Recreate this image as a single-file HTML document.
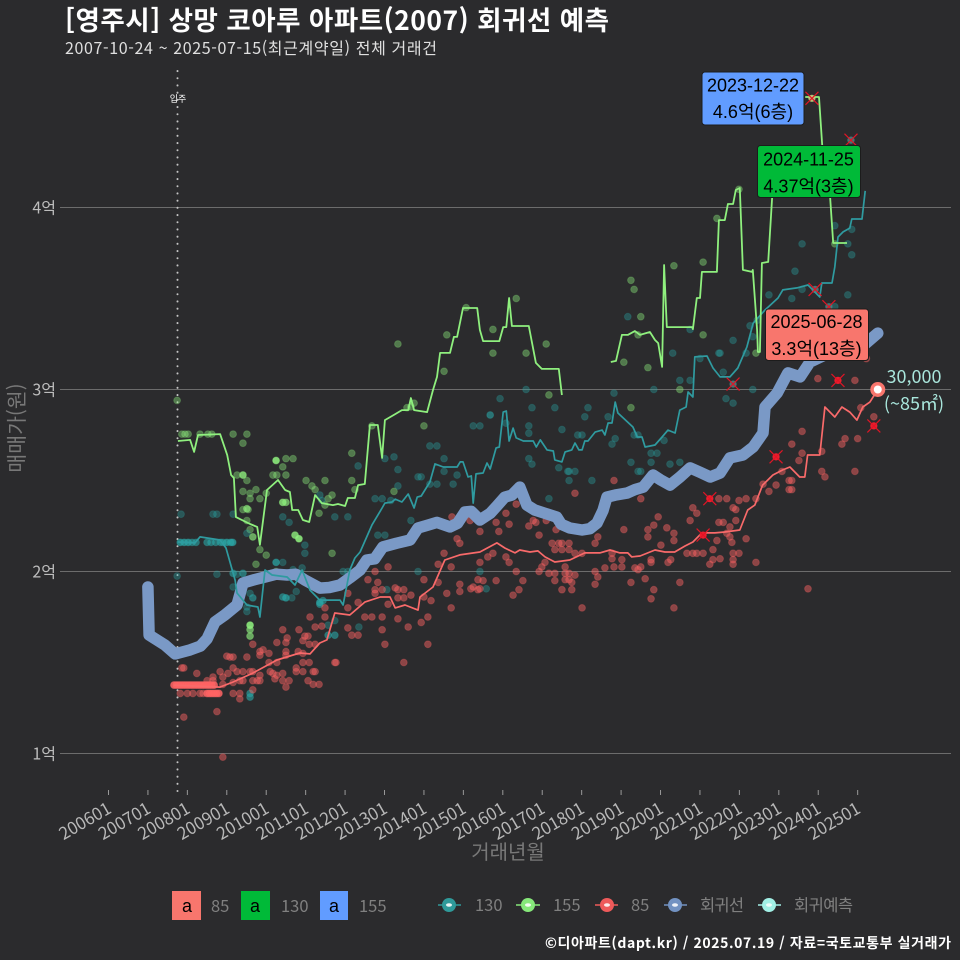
<!DOCTYPE html>
<html lang="ko">
<head>
<meta charset="utf-8">
<title>영주시 상망 코아루 아파트 회귀선 예측</title>
<style>
html,body{margin:0;padding:0;background:#2b2b2d;}
svg{display:block;}
text{font-family:"Noto Sans CJK KR","Liberation Sans",sans-serif;}
.lab{font-family:"Liberation Sans","Noto Sans CJK KR",sans-serif;font-size:18px;fill:#000;text-anchor:middle;}
.lg{font-size:16.5px;fill:#808080;}
</style>
</head>
<body>
<svg id="chart" xmlns="http://www.w3.org/2000/svg" width="960" height="960" viewBox="0 0 960 960">
<rect x="0" y="0" width="960" height="960" fill="#2b2b2d"/>
<text x="65" y="30" font-size="26.5" font-weight="700" fill="#ffffff" textLength="544" lengthAdjust="spacing">[영주시] 상망 코아루 아파트(2007) 회귀선 예측</text>
<text x="65" y="54" font-size="16" fill="#e0e0e0" textLength="372" lengthAdjust="spacing">2007-10-24 ~ 2025-07-15(최근계약일) 전체 거래건</text>
<g id="grid"></g>
<g id="yLabels"></g>
<g id="xAxis"></g>
<text x="0" y="0" transform="translate(24,428) rotate(-90)" text-anchor="middle" font-size="20.5" fill="#787878">매매가(원)</text>
<text x="508" y="859" text-anchor="middle" font-size="20" fill="#787878">거래년월</text>
<line x1="177.5" y1="71" x2="177.5" y2="791" stroke="#c4c4c4" stroke-width="2" stroke-linecap="round" stroke-dasharray="0.1 7.1"/>
<text x="178" y="102" text-anchor="middle" font-size="9" fill="#ffffff">입주</text>
<g id="points"></g>
<g id="lines"></g>
<g id="marks"></g>

<g>
<rect x="702" y="72" width="102" height="53" rx="3" fill="#619CFF" stroke="#1c1c1c"/>
<text class="lab" x="753" y="91.5">2023-12-22</text>
<text class="lab" x="753" y="118">4.6억(6층)</text>
</g>
<g>
<rect x="757.5" y="145.5" width="103" height="52" rx="3" fill="#00BA38" stroke="#1c1c1c"/>
<text class="lab" x="808.5" y="165.5">2024-11-25</text>
<text class="lab" x="808.5" y="192.5">4.37억(3층)</text>
</g>
<g>
<rect x="765.5" y="309" width="103" height="51.5" rx="3" fill="#F8766D" stroke="#1c1c1c"/>
<text class="lab" x="816.5" y="328">2025-06-28</text>
<text class="lab" x="816.5" y="355">3.3억(13층)</text>
</g>

<g id="endpoint"></g>
<text x="914" y="383" text-anchor="middle" font-size="18" fill="#a9e6dc">30,000</text>
<text x="914" y="410" text-anchor="middle" font-size="18" fill="#a9e6dc">(~85㎡)</text>

<g>
<g>
<rect x="172" y="891" width="29" height="29" fill="#F8766D"/>
<text x="187" y="912" text-anchor="middle" font-size="18" fill="#000" style="font-family:'Liberation Sans',sans-serif">a</text>
<text class="lg" x="211" y="912">85</text>
</g>
<g>
<rect x="241" y="891" width="29" height="29" fill="#00BA38"/>
<text x="255" y="912" text-anchor="middle" font-size="18" fill="#000" style="font-family:'Liberation Sans',sans-serif">a</text>
<text class="lg" x="281" y="912">130</text>
</g>
<g>
<rect x="320" y="891" width="28" height="29" fill="#619CFF"/>
<text x="334" y="912" text-anchor="middle" font-size="18" fill="#000" style="font-family:'Liberation Sans',sans-serif">a</text>
<text class="lg" x="359" y="912">155</text>
</g>
</g>
<g>
<g>
<line x1="438" y1="905" x2="461" y2="905" stroke="#2f9a9a" stroke-width="1.5"/>
<circle cx="449" cy="905" r="7" fill="#2f9a9a"/><ellipse cx="449" cy="905" rx="3" ry="1.7" fill="#e8f4f4"/>
<text class="lg" x="475" y="911">130</text>
</g>
<g>
<line x1="516" y1="905" x2="540" y2="905" stroke="#86e87a" stroke-width="1.5"/>
<circle cx="528" cy="905" r="7" fill="#86e87a"/><ellipse cx="528" cy="905" rx="3" ry="1.7" fill="#f2fbf0"/>
<text class="lg" x="553" y="911">155</text>
</g>
<g>
<line x1="595" y1="905" x2="618" y2="905" stroke="#ee5a5a" stroke-width="1.5"/>
<circle cx="607" cy="905" r="7" fill="#ee5a5a"/><ellipse cx="607" cy="905" rx="3" ry="1.7" fill="#fbeaea"/>
<text class="lg" x="631" y="911">85</text>
</g>
<g>
<line x1="664" y1="905" x2="687" y2="905" stroke="#7292c2" stroke-width="1.5"/>
<circle cx="675" cy="905" r="7" fill="#7292c2"/><ellipse cx="675" cy="905" rx="3" ry="1.7" fill="#eef2f8"/>
<text class="lg" x="700" y="911" textLength="44" lengthAdjust="spacing">회귀선</text>
</g>
<g>
<line x1="758" y1="905" x2="781" y2="905" stroke="#a2f0e6" stroke-width="1.5"/>
<circle cx="769" cy="905" r="7" fill="#a2f0e6"/><ellipse cx="769" cy="905" rx="3" ry="1.7" fill="#eefcfa"/>
<text class="lg" x="794" y="911" textLength="59" lengthAdjust="spacing">회귀예측</text>
</g>
</g>
<text x="951" y="948" text-anchor="end" font-size="14" font-weight="700" fill="#ffffff" textLength="406" lengthAdjust="spacing">©디아파트(dapt.kr) / 2025.07.19 / 자료=국토교통부 실거래가</text>
</svg>

<script>
const xTickLabels = ["200601","200701","200801","200901","201001","201101","201201","201301","201401","201501","201601","201701","201801","201901","202001","202101","202201","202301","202401","202501"];
const yTickValues = [1,2,3,4];
const yTickLabels = ["1억","2억","3억","4억"];

const regressionLine = [[2007.0,1.915],[2007.03,1.651],[2007.43,1.596],[2007.69,1.547],[2008.07,1.569],[2008.33,1.59],[2008.5,1.63],[2008.7,1.723],[2008.95,1.761],[2009.26,1.816],[2009.41,1.937],[2009.7,1.955],[2009.97,1.97],[2010.25,1.985],[2010.53,1.981],[2010.75,1.985],[2010.98,1.953],[2011.36,1.909],[2011.6,1.912],[2011.87,1.926],[2012.12,1.965],[2012.38,2.008],[2012.55,2.063],[2012.75,2.07],[2012.96,2.135],[2013.3,2.155],[2013.65,2.173],[2013.85,2.239],[2014.1,2.255],[2014.33,2.27],[2014.66,2.245],[2014.85,2.265],[2015.04,2.327],[2015.2,2.33],[2015.42,2.283],[2015.68,2.32],[2015.85,2.36],[2016.05,2.409],[2016.23,2.42],[2016.43,2.464],[2016.61,2.365],[2016.81,2.338],[2017.07,2.32],[2017.37,2.299],[2017.48,2.26],[2017.7,2.239],[2018.01,2.228],[2018.21,2.235],[2018.39,2.266],[2018.54,2.335],[2018.64,2.409],[2018.85,2.42],[2019.15,2.431],[2019.35,2.45],[2019.56,2.464],[2019.81,2.53],[2019.99,2.505],[2020.24,2.475],[2020.5,2.52],[2020.75,2.569],[2021.0,2.545],[2021.26,2.519],[2021.51,2.541],[2021.76,2.624],[2022.09,2.64],[2022.35,2.684],[2022.6,2.761],[2022.65,2.904],[2022.96,2.981],[2023.23,3.091],[2023.54,3.069],[2023.79,3.151],[2024.17,3.19],[2024.68,3.217],[2025.13,3.239],[2025.51,3.31]];

const line85 = [[2007.66,1.376],[2008.83,1.365],[2009.16,1.393],[2009.66,1.442],[2010.27,1.514],[2010.85,1.552],[2011.11,1.547],[2011.36,1.607],[2011.54,1.624],[2011.74,1.772],[2012.12,1.761],[2012.5,1.832],[2012.89,1.86],[2013.14,1.86],[2013.27,1.8],[2013.52,1.816],[2013.85,1.788],[2013.9,1.86],[2014.23,1.915],[2014.53,2.063],[2014.91,2.091],[2015.42,2.107],[2015.85,2.157],[2016.05,2.129],[2016.31,2.102],[2016.43,2.118],[2016.69,2.107],[2016.89,2.113],[2017.07,2.08],[2017.32,2.052],[2017.7,2.063],[2018.08,2.102],[2018.46,2.102],[2018.72,2.118],[2018.97,2.102],[2019.17,2.102],[2019.27,2.08],[2019.48,2.085],[2019.86,2.118],[2020.11,2.107],[2020.36,2.107],[2020.62,2.14],[2020.82,2.162],[2021.05,2.212],[2021.38,2.212],[2021.63,2.217],[2022.01,2.228],[2022.21,2.338],[2022.39,2.365],[2022.59,2.475],[2022.85,2.53],[2023.1,2.558],[2023.28,2.574],[2023.53,2.519],[2023.66,2.519],[2023.73,2.64],[2024.04,2.64],[2024.17,2.904],[2024.42,2.849],[2024.6,2.904],[2024.8,2.876],[2024.98,2.832],[2025.13,2.904],[2025.31,2.931],[2025.51,3.0]];

const line130 = [[2007.76,2.162],[2008.19,2.157],[2008.32,2.19],[2008.83,2.173],[2008.98,2.129],[2009.21,1.953],[2009.26,1.882],[2009.51,1.816],[2009.79,1.805],[2009.84,1.75],[2009.97,2.008],[2010.15,1.981],[2010.53,1.97],[2010.73,1.926],[2010.91,2.008],[2011.11,1.898],[2011.36,1.843],[2011.87,1.843],[2011.95,1.816],[2012.12,2.008],[2012.25,2.074],[2012.38,2.107],[2012.68,2.255],[2012.94,2.349],[2013.01,2.376],[2013.19,2.382],[2013.27,2.398],[2013.44,2.382],[2013.6,2.426],[2013.75,2.349],[2013.83,2.409],[2013.93,2.415],[2014.15,2.492],[2014.28,2.591],[2014.49,2.574],[2014.84,2.574],[2014.92,2.602],[2014.99,2.602],[2015.12,2.519],[2015.2,2.525],[2015.25,2.376],[2015.32,2.536],[2015.5,2.541],[2015.6,2.596],[2015.68,2.563],[2015.83,2.679],[2015.91,2.684],[2016.01,2.876],[2016.09,2.882],[2016.16,2.717],[2016.26,2.788],[2016.34,2.734],[2016.52,2.717],[2016.77,2.717],[2016.85,2.684],[2016.95,2.723],[2017.12,2.668],[2017.28,2.662],[2017.32,2.613],[2017.5,2.602],[2017.58,2.657],[2017.75,2.668],[2017.83,2.706],[2017.93,2.668],[2018.01,2.668],[2018.08,2.717],[2018.16,2.717],[2018.34,2.766],[2018.52,2.777],[2018.59,2.75],[2018.67,2.816],[2018.77,2.816],[2018.85,2.931],[2018.92,2.871],[2019.3,2.794],[2019.41,2.739],[2019.53,2.739],[2019.61,2.684],[2019.86,2.695],[2020.04,2.739],[2020.19,2.777],[2020.37,2.761],[2020.49,2.887],[2020.65,2.904],[2020.7,2.986],[2020.82,2.959],[2020.87,3.179],[2021.18,3.184],[2021.33,3.118],[2021.51,3.069],[2021.76,3.069],[2021.96,3.118],[2022.19,3.234],[2022.35,3.365],[2022.65,3.437],[2022.98,3.503],[2023.1,3.547],[2023.46,3.558],[2023.74,3.574],[2024.04,3.508],[2024.09,3.585],[2024.35,3.585],[2024.42,3.673],[2024.5,3.838],[2024.63,3.866],[2024.8,3.887],[2024.85,3.937],[2025.11,3.937],[2025.19,4.091]];

const line155 = [[2007.76,2.717],[2008.07,2.723],[2008.17,2.657],[2008.27,2.75],[2008.83,2.755],[2009.01,2.64],[2009.11,2.53],[2009.18,2.514],[2009.23,2.299],[2009.59,2.261],[2009.77,2.245],[2009.84,2.146],[2010.02,2.448],[2010.3,2.503],[2010.48,2.448],[2010.6,2.437],[2010.66,2.338],[2010.81,2.338],[2010.93,2.283],[2011.09,2.272],[2011.24,2.42],[2011.41,2.376],[2011.69,2.365],[2011.82,2.371],[2012.0,2.36],[2012.07,2.404],[2012.25,2.404],[2012.33,2.475],[2012.5,2.481],[2012.63,2.805],[2012.83,2.805],[2012.94,2.624],[2013.01,2.832],[2013.27,2.865],[2013.44,2.887],[2013.6,2.887],[2013.67,2.953],[2013.75,2.887],[2014.08,2.876],[2014.23,2.997],[2014.33,3.069],[2014.41,3.201],[2014.66,3.201],[2014.76,3.289],[2014.84,3.289],[2014.99,3.448],[2015.35,3.448],[2015.42,3.327],[2015.5,3.266],[2015.91,3.266],[2016.01,3.343],[2016.09,3.343],[2016.16,3.503],[2016.23,3.349],[2016.66,3.349],[2016.84,3.146],[2016.99,3.113],[2017.42,3.113],[2017.5,2.97],null,[2018.74,3.151],[2018.87,3.157],[2019.02,3.3],[2019.17,3.3],[2019.35,3.321],[2019.48,3.3],[2019.73,3.316],[2019.86,3.272],[2019.94,3.255],[2020.04,3.124],[2020.09,3.684],[2020.16,3.343],[2020.8,3.343],[2020.82,3.332],[2020.92,3.503],[2021.0,3.503],[2021.05,3.646],[2021.43,3.646],[2021.48,3.931],[2021.63,3.931],[2021.71,4.019],[2021.84,4.019],[2021.91,4.096],[2022.01,4.107],[2022.09,3.657],[2022.32,3.646],[2022.34,3.657],[2022.45,3.327],[2022.47,3.206],[2022.52,3.206],[2022.57,3.695],[2022.73,3.701],[2022.83,4.052],[2022.86,4.206],null,[2023.67,4.607],[2024.02,4.607],[2024.1,4.343],[2024.3,4.058],[2024.38,3.805],[2024.73,3.805]];

/* deals: [year, price, overlapping deal count] */
const deals85 = [[2007.66,1.376,3],[2007.72,1.376,3],[2007.78,1.376,3],[2007.84,1.376,3],[2007.9,1.376,3],[2007.96,1.376,3],[2008.02,1.376,3],[2008.08,1.376,3],[2008.14,1.376,3],[2008.2,1.376,3],[2008.26,1.376,3],[2008.32,1.376,3],[2008.38,1.376,3],[2008.44,1.376,3],[2008.5,1.376,3],[2008.56,1.376,3],[2008.62,1.376,3],[2008.68,1.376,3],[2008.5,1.33,3],[2008.56,1.33,3],[2008.62,1.33,3],[2008.68,1.33,3],[2008.74,1.33,3],[2008.8,1.33,3],[2007.82,1.33],[2008.0,1.33],[2008.14,1.33],[2008.32,1.33],[2008.4,1.33],
[2007.86,1.47],[2007.91,1.47],[2008.24,1.44],[2008.83,1.45],[2009.0,1.535],[2009.08,1.53],[2009.16,1.53],[2009.51,1.53],[2009.66,1.6],[2009.84,1.56],[2009.84,1.54],[2009.92,1.57],[2010.07,1.55],[2010.27,1.61],[2010.5,1.61],[2010.5,1.56],[2010.5,1.54],[2010.81,1.56],[2010.93,1.55],[2010.93,1.62],[2011.24,1.6],[2011.09,1.6],[2011.77,1.5],[2011.09,1.5],[2010.93,1.5],[2010.27,1.5],[2010.07,1.5],
[2008.65,1.42],[2008.9,1.42],[2009.03,1.44],[2009.16,1.47],[2009.26,1.45],[2009.41,1.45],[2009.59,1.45],[2009.66,1.45],[2010.1,1.45],[2010.17,1.44],[2010.27,1.43],[2010.22,1.41],[2010.42,1.44],[2010.42,1.4],[2010.58,1.4],[2010.5,1.365],[2010.76,1.47],[2010.76,1.45],[2010.93,1.45],[2011.19,1.45],[2011.24,1.45],[2011.06,1.4],[2011.19,1.38],[2011.34,1.38],
[2008.5,1.4],[2008.65,1.4],[2008.9,1.38],[2009.16,1.39],[2009.33,1.4],[2009.66,1.4],[2009.77,1.4],[2009.84,1.4],[2009.84,1.43],[2009.41,1.4],[2009.16,1.33],[2009.33,1.33],[2009.33,1.3],[2009.66,1.35],[2008.75,1.23],[2007.91,1.2],[2008.9,0.98],
[2011.49,1.8],[2011.11,1.75],[2011.49,1.75],[2011.24,1.695],[2011.41,1.7],[2011.74,1.5],[2012.07,1.88],[2012.07,1.8],[2012.07,1.69],[2012.17,1.65],[2012.33,1.83],[2012.33,1.65],[2012.5,1.75],[2012.68,1.75],[2012.58,1.955],[2012.76,2.0],[2012.83,1.94],[2012.76,1.9],[2012.76,1.88],[2012.94,1.9],[2012.94,1.75],[2012.94,1.68],[2013.01,1.6],[2013.09,2.025],[2013.09,1.82],[2013.27,1.91],[2013.34,1.9],[2013.34,1.855],[2013.34,1.74],[2013.49,1.9],[2013.49,1.855],[2013.6,1.695],[2013.49,1.5],[2013.67,1.87],[2013.93,1.72],[2014.0,1.86],[2014.0,1.955],[2014.1,1.75],[2014.1,1.6],[2014.18,1.84],[2014.36,2.04],[2014.36,1.94],[2014.51,2.1],[2014.58,1.88],[2014.69,1.8],[2014.69,2.025],[2014.91,1.93],[2014.91,1.89],[2014.84,2.18],[2014.91,2.155],[2015.17,2.28],[2015.19,1.905],[2015.25,1.915],[2015.37,1.9],[2015.37,1.955],[2014.71,2.3],
[2010.42,1.68],[2010.53,1.635],[2010.83,1.68],[2010.98,1.645],[2011.06,1.645],
[2015.42,2.22],[2015.83,2.27],[2016.08,2.32],[2016.16,2.26],[2016.34,2.37],[2015.9,2.22],[2015.62,2.08],[2015.75,2.1],[2015.42,2.05],[2016.08,2.08],[2016.16,2.05],[2016.34,2.0],[2015.5,1.95],[2015.83,1.95],[2016.51,1.95],[2016.41,1.9],[2016.26,1.87],[2015.42,1.905],
[2016.66,2.25],[2016.77,2.28],[2016.84,2.27],[2016.92,2.2],[2017.1,2.28],[2017.35,2.23],[2017.25,2.155],[2017.42,2.155],[2017.5,2.155],[2017.68,2.155],[2017.32,2.12],[2017.5,2.12],[2017.68,2.12],[2017.83,2.1],[2018.01,2.1],[2017.07,2.05],[2016.99,2.025],[2016.92,2.0],[2017.17,1.99],[2017.32,1.99],[2017.32,1.95],[2017.58,2.025],[2017.58,1.99],[2017.58,1.955],[2017.68,1.99],[2017.68,1.955],[2017.75,1.94],[2017.83,1.98],[2017.5,1.9],[2017.75,1.9],[2018.01,1.8],[2018.34,2.0],[2018.41,1.97],[2018.34,1.93],[2018.59,2.02],[2018.41,2.19],[2018.34,2.155],[2018.82,2.5],[2017.83,2.43],[2018.82,2.025],[2018.77,2.1],[2018.77,2.07],[2019.02,2.065],[2019.02,2.025],[2019.07,2.23],[2019.25,1.94],[2019.35,2.02],[2019.43,2.01],[2019.5,2.025],[2019.61,1.96],[2019.76,2.065],[2019.76,2.05],[2019.83,1.9],[2019.76,1.85],[2019.68,2.23],[2019.68,2.19],[2019.83,2.255],[2019.94,2.3],[2020.16,2.24],[2020.34,2.21],[2020.34,2.17],[2020.01,2.145],[2020.19,2.05],[2020.26,2.065],[2020.34,1.8],[2020.49,1.94],[2019.5,2.4],
[2020.75,2.28],[2020.82,2.35],[2020.92,2.32],[2020.67,2.1],[2020.82,2.1],[2020.92,2.1],[2021.08,2.1],[2021.33,2.12],[2021.43,2.17],[2021.25,2.04],[2021.33,2.065],[2021.51,2.07],
[2021.48,2.4],[2021.68,2.4],[2021.84,2.35],[2021.91,2.34],[2021.48,2.27],[2021.59,2.27],[2021.76,2.245],[2021.91,2.28],[2021.68,2.21],[2021.76,2.19],[2021.81,2.16],[2022.17,2.18],[2021.84,2.1],[2021.84,2.065],[2021.84,2.04],[2021.99,2.1],[2022.42,2.05],[2021.99,2.39],[2022.17,2.4],[2022.42,2.4],
[2022.6,2.48],[2022.75,2.44],[2022.93,2.475],[2023.08,2.55],[2023.26,2.5],[2023.33,2.5],[2023.26,2.45],[2023.33,2.45],[2023.33,2.7],[2023.51,2.61],[2023.59,2.65],[2023.59,2.77],[2024.09,2.66],[2024.09,2.55],[2024.17,2.52],[2023.74,1.905],[2024.6,2.7],[2024.68,2.73],[2025.0,2.73],[2025.08,2.9],[2024.93,2.55],[2023.99,3.06],[2024.93,3.05],[2025.41,2.85],[2025.22,3.17]];

const deals130 = [[2007.82,2.16,3],[2007.92,2.16,3],[2008.02,2.16,3],[2008.12,2.16,2],[2008.22,2.16,2],[2008.5,2.16,2],[2008.6,2.16,2],[2008.72,2.16,2],[2008.84,2.16,2],[2008.9,2.16,2],[2009.0,2.16,3],[2009.1,2.16,3],[2009.15,2.16,3],
[2007.84,2.315],[2008.65,2.315],[2008.75,2.315],[2009.16,2.315],[2007.74,1.975],[2008.75,1.985],[2009.16,1.99,2],[2009.26,1.985],[2009.41,1.99,2],[2009.16,1.915],[2009.51,2.21],[2010.42,2.3],[2010.58,2.27],[2010.98,2.145],[2010.98,2.1],[2010.42,2.05],[2010.25,2.05,3],[2010.42,1.86,2],[2010.5,1.855,3],[2010.65,1.855],[2010.76,1.89],[2010.68,2.01],[2010.91,2.02],[2009.66,1.855,2],[2009.59,1.88],[2009.51,1.805],[2009.51,1.78],
[2011.36,1.83,3],[2011.44,1.84,2],[2011.36,1.82,2],[2011.57,1.705],[2011.57,1.65,2],[2011.74,1.65,2],[2011.74,1.73],[2012.35,1.695],[2009.59,1.33,2],[2009.59,1.31,2],[2011.36,2.42],[2011.41,2.39],[2011.74,2.3],[2012.07,2.3],[2012.33,2.58],[2012.76,2.4],[2012.94,2.4],[2013.16,2.39],[2012.83,2.2],[2013.01,2.2],[2013.01,2.62],[2013.24,2.63],[2013.34,2.56],[2013.34,2.47],[2013.85,2.52],[2013.93,2.52],[2014.15,2.69],[2014.33,2.69],[2014.51,2.62],[2014.51,2.55],[2014.15,2.48],[2014.33,2.48],[2014.84,2.53],[2014.74,2.48],[2015.25,2.8],[2015.42,2.8],[2013.67,2.28],[2013.85,2.0],[2013.06,1.9],[2012.07,2.0],[2011.95,2.0],
[2015.68,2.86,2],[2015.93,2.95],[2016.08,2.815],[2016.59,3.0],[2016.74,2.9],[2016.66,2.8],[2016.66,2.76],[2017.32,2.9],[2017.5,2.78],[2018.16,2.9],[2018.08,2.85],[2017.9,2.75],[2018.01,2.75],[2018.67,2.85],[2018.77,2.7],[2018.85,2.73],[2018.82,2.98],[2019.17,3.4],[2019.33,2.75],[2016.66,2.62],[2016.74,2.59],[2017.42,2.57],[2017.68,2.55],[2017.83,2.55],[2017.68,2.5],[2018.26,2.5],[2017.17,2.4],[2019.25,2.6],[2019.43,2.55],[2019.43,2.75],[2019.83,3.0],[2020.49,3.05],[2020.75,3.05],[2020.09,2.72],[2019.76,2.65],[2019.91,2.65],[2019.76,2.6],[2020.49,2.6],[2020.24,2.59],[2019.5,2.55],[2017.65,2.55],[2015.58,1.905],[2015.42,2.0],[2020.31,3.2],[2021.48,3.2],[2022.17,3.2],[2021.66,2.95],[2021.84,2.925],[2022.34,3.0],[2020.75,3.33],[2021.0,3.17],[2021.51,3.2],[2021.59,3.095],[2021.84,3.27],[2022.27,3.35],[2022.45,3.38],[2022.34,3.29],[2022.75,3.52],[2023.33,3.5],[2023.41,3.65],[2023.59,3.8],[2023.59,3.55],[2024.42,3.9],[2024.75,3.8],[2024.85,3.88],[2024.85,3.74],[2024.75,3.52],[2024.42,3.455]];

const deals155 = [[2007.74,2.94],[2007.86,2.755],[2007.94,2.755],[2008.02,2.755],[2008.32,2.755],[2008.52,2.755],[2008.62,2.755],[2009.16,2.755],[2009.51,2.755],[2009.41,2.705],[2009.26,2.53],[2009.41,2.53,3],[2009.51,2.5],[2009.41,2.44],[2009.59,2.43],[2009.74,2.45],[2009.59,2.4],[2009.84,2.4],[2010.0,2.43],[2009.41,2.34],[2009.51,2.345,2],[2009.54,2.34],[2009.51,2.28],[2009.59,2.23],[2009.66,2.19,2],[2009.84,2.12],[2010.0,2.09],[2009.74,2.04],[2010.25,2.61,4],[2010.5,2.62],[2010.68,2.62],[2010.42,2.575],[2010.5,2.53],[2010.17,2.53],[2010.27,2.53],[2010.42,2.38,3],[2010.5,2.38,2],[2010.73,2.2,3],[2010.83,2.18,4],[2011.01,2.5],[2011.16,2.47],[2011.24,2.45],[2011.49,2.5],[2011.57,2.4],[2011.67,2.42],[2011.49,2.365],[2011.34,2.32],[2011.67,2.1],[2012.17,2.65],[2012.17,2.5],[2012.25,2.45],[2009.59,1.705,4],[2009.59,1.68,2],[2009.59,1.645,2],[2010.25,2.0],[2012.68,2.8],[2013.24,2.44],[2014.0,2.8],[2013.57,2.9],[2013.67,2.905],[2013.75,2.925],
[2013.34,3.25],[2014.51,3.1],[2014.58,3.3],[2015.07,3.45],[2015.75,3.33],[2015.75,3.2],[2016.34,3.5],[2016.59,3.2],[2017.1,3.25],[2017.17,2.97],[2019.07,3.15],[2019.25,2.9],[2019.68,3.12],[2019.25,3.6],[2019.33,3.55],[2019.5,3.4],[2019.43,3.3],[2020.34,3.68],[2021.08,3.7],[2021.08,3.3],[2021.43,3.94],[2021.99,4.1],[2022.42,3.2],[2024.42,3.8],[2020.49,3.0]];

const recentDeals85 = [[2021.25,2.4],[2022.93,2.63],[2024.5,3.05],[2025.41,2.8],[2021.08,2.2]];
const recentDeals130 = [[2021.84,3.03],[2023.92,3.55],[2024.27,3.455],[2024.83,4.37]];
const recentDeals155 = [[2023.84,4.6]];

const SVGNS = "http://www.w3.org/2000/svg";
const xScale = year => 108.5 + (year - 2006) * 39.43;
const yScale = price => 753.5 - (price - 1) * 182;
const mk = (tag, attrs) => {
  const el = document.createElementNS(SVGNS, tag);
  for (const k in attrs) el.setAttribute(k, attrs[k]);
  return el;
};
const gridG = document.getElementById("grid");
const yLabG = document.getElementById("yLabels");
const xAxG = document.getElementById("xAxis");
const ptG = document.getElementById("points");
const lnG = document.getElementById("lines");
const mkG = document.getElementById("marks");
const endG = document.getElementById("endpoint");

yTickValues.forEach((v, i) => {
  const l = mk("line", {x1: 60, x2: 951, y1: yScale(v), y2: yScale(v), stroke: "#6c6c6c", "stroke-width": 1.1});
  
  
  gridG.appendChild(l);
  const t = mk("text", {x: 56, y: yScale(v) + 6, "text-anchor": "end", "font-size": 16, fill: "#bdbdbd"});
  
  
  t.textContent = yTickLabels[i];
  yLabG.appendChild(t);
});

xTickLabels.forEach(lbl => {
  const x = xScale(+lbl.slice(0, 4) + (+lbl.slice(4) - 1) / 12);
  const l = mk("line", {x1: x, x2: x, y1: 790, y2: 795, stroke: "#999", "stroke-width": 1});
  
  
  xAxG.appendChild(l);
  const t = mk("text", {transform: "translate(" + (x + 4) + ",812) rotate(-30)", "text-anchor": "end", "font-size": 17, fill: "#b8b8b8"});
  
  
  t.textContent = lbl;
  xAxG.appendChild(t);
});

function drawDeals(data, color, alpha) {
  data.forEach(d => {
    const n = d[2] || 1;
    const a = 1 - Math.pow(1 - alpha, n);
    const c = mk("circle", {cx: xScale(d[0]), cy: yScale(d[1]), r: 3.4, fill: color, "fill-opacity": a, stroke: color, "stroke-opacity": a * 0.6, "stroke-width": 1});
    
    
    ptG.appendChild(c);
  });
}
drawDeals(deals155, "#8ff07e", 0.4);
drawDeals(deals130, "#2aa5a5", 0.36);
drawDeals(deals85, "#ff6464", 0.46);

function pathFrom(data) {
  let d = "", pen = false;
  data.forEach(p => {
    if (!p) { pen = false; return; }
    d += (pen ? "L" : "M") + xScale(p[0]).toFixed(1) + " " + yScale(p[1]).toFixed(1);
    pen = true;
  });
  return d;
}
const regPath = mk("path", {d: pathFrom(regressionLine), fill: "none", stroke: "#7a99c6", "stroke-width": 11.5, "stroke-linecap": "round", "stroke-linejoin": "round"});


lnG.appendChild(regPath);
const path130 = mk("path", {d: pathFrom(line130), fill: "none", stroke: "#2f9ba0", "stroke-width": 1.7, "stroke-linejoin": "round"});


lnG.appendChild(path130);
const path155 = mk("path", {d: pathFrom(line155), fill: "none", stroke: "#8ff07e", "stroke-width": 1.8, "stroke-linejoin": "round"});


lnG.appendChild(path155);
const path85 = mk("path", {d: pathFrom(line85), fill: "none", stroke: "#f96a6a", "stroke-width": 1.7, "stroke-linejoin": "round"});


lnG.appendChild(path85);

function drawRecent(data, fill, alpha) {
  data.forEach(d => {
    const cx = xScale(d[0]), cy = yScale(d[1]);
    const g = mk("g", {});
    
    
    g.appendChild(mk("circle", {cx: cx, cy: cy, r: 3.6, fill: fill, "fill-opacity": alpha}));
    g.appendChild(mk("path", {d: "M" + (cx - 6.5) + " " + (cy - 6.5) + "L" + (cx + 6.5) + " " + (cy + 6.5) + "M" + (cx + 6.5) + " " + (cy - 6.5) + "L" + (cx - 6.5) + " " + (cy + 6.5), stroke: "#e01526", "stroke-width": 1.2, fill: "none"}));
    mkG.appendChild(g);
  });
}
drawRecent(recentDeals85, "#ee1c2c", 1);
drawRecent(recentDeals130, "#4a8a8a", 0.8);
drawRecent(recentDeals155, "#c8d080", 0.9);

const last = line85[line85.length - 1];
const endOuter = mk("circle", {cx: xScale(last[0]), cy: yScale(last[1]), r: 7.5, fill: "#F8766D"});


endG.appendChild(endOuter);
const endInner = mk("circle", {cx: xScale(last[0]), cy: yScale(last[1]), r: 4, fill: "#ffffff"});


endG.appendChild(endInner);
</script>
</body>
</html>
